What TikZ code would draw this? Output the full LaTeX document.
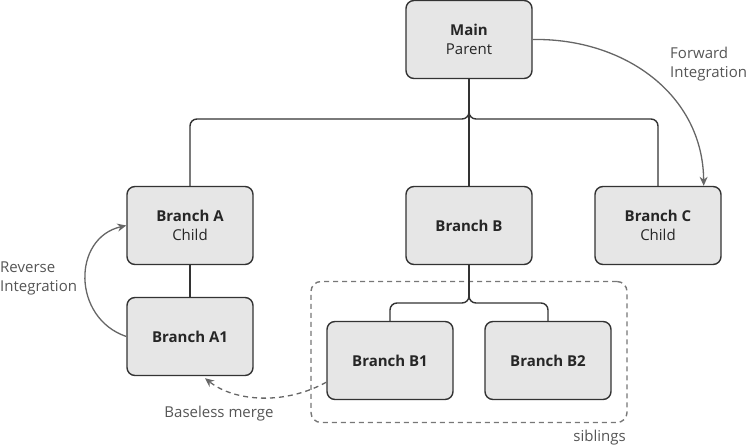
\documentclass[tikz,border=0pt]{standalone}
\usepackage{fontspec}
\setmainfont{Open Sans}
\usetikzlibrary{arrows.meta,calc}
\definecolor{boxfill}{HTML}{E6E6E6}
\definecolor{boxline}{HTML}{333333}
\definecolor{arrowgray}{HTML}{666666}
\definecolor{labelgray}{HTML}{555555}
\begin{document}
\begin{tikzpicture}[x=1pt,y=-1pt,
  branchbox/.style={draw=boxline,fill=boxfill,line width=1.4pt,rounded corners=8pt,
    minimum width=126pt,minimum height=78pt,align=center,inner sep=0pt,
    font=\fontsize{15}{19}\selectfont,text=black!85},
  treeline/.style={draw=boxline,line width=1.4pt,rounded corners=7pt},
  grayarrow/.style={draw=arrowgray,line width=1.3pt,-{Stealth[length=9pt,width=8pt]}},
  lbl/.style={font=\fontsize{15}{19}\selectfont,text=labelgray,inner sep=0pt,align=left}]
\useasboundingbox (0,0) rectangle (748,447);
% siblings group
\node[draw=labelgray!80,line width=1.4pt,dash pattern=on 5pt off 4pt,rounded corners=10pt,
  minimum width=316pt,minimum height=141pt,inner sep=0pt] (grp) at (469,352) {};
\node[lbl,anchor=east] (sib) at (626,438) {siblings};
% nodes
\node[branchbox] (main) at (469,39.5) {\textbf{Main}\\Parent};
\node[branchbox] (A) at (190,225.5) {\textbf{Branch A}\\Child};
\node[branchbox] (B) at (469,225.5) {\textbf{Branch B}};
\node[branchbox] (C) at (658,225.5) {\textbf{Branch C}\\Child};
\node[branchbox] (A1) at (190,336.5) {\textbf{Branch A1}};
\node[branchbox] (B1) at (390,360.5) {\textbf{Branch B1}};
\node[branchbox] (B2) at (548,360.5) {\textbf{Branch B2}};
% tree connectors
\draw[treeline] (main.south) -- (B.north);
\draw[treeline] (A.north) |- (469,119) -- (469,105);
\draw[treeline] (C.north) |- (469,119) -- (469,105);
\draw[treeline] (A.south) -- (A1.north);
\draw[treeline] (B.south) -- (469,298);
\draw[treeline] (B1.north) |- (469,303) -- (469,290);
\draw[treeline] (B2.north) |- (469,303) -- (469,290);
% forward integration
\coordinate (fiend) at ([xshift=-18pt]C.north east);
\draw[grayarrow] (main.east) .. controls (625,38) and (703,95) .. (fiend);
\node[lbl,anchor=west] (fwd) at (670,64) {Forward\\Integration};
% reverse integration
\draw[grayarrow] (A1.west) .. controls (72,318) and (72,238) .. (A.west);
\node[lbl,anchor=west] (rev) at (0,278) {Reverse\\Integration};
% baseless merge
\coordinate (bmstart) at ([yshift=18pt]B1.south west);
\coordinate (bmend) at ([xshift=15pt,yshift=-2pt]A1.south);
\draw[grayarrow,dash pattern=on 5pt off 4pt] (bmstart) .. controls (285,405) and (235,402) .. (bmend);
\node[lbl] (bm) at (219,414) {Baseless merge};
\end{tikzpicture}
\end{document}
